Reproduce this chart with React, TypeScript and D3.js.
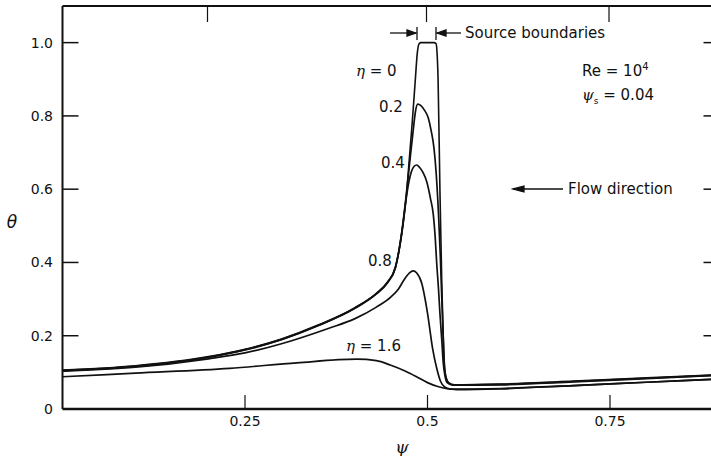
import React from "react";
import * as d3 from "d3";

// theta vs psi for each eta
const eta0 = [
  [0, 0.106], [0.1, 0.118], [0.2, 0.143], [0.25, 0.163], [0.3, 0.191], [0.35, 0.229],
  [0.4, 0.276], [0.43, 0.316], [0.445, 0.346], [0.456, 0.387], [0.465, 0.482],
  [0.471, 0.582], [0.475, 0.68], [0.479, 0.78], [0.483, 0.89], [0.4862, 0.975],
  [0.4885, 0.997], [0.491, 1.0], [0.509, 1.0], [0.5118, 0.997], [0.513, 0.975],
  [0.5145, 0.9], [0.517, 0.6], [0.5195, 0.35], [0.5215, 0.2], [0.523, 0.12],
  [0.525, 0.088], [0.529, 0.072], [0.537, 0.066], [0.6, 0.068], [0.7, 0.076],
  [0.8, 0.085], [0.9, 0.094],
];
const eta02 = [
  [0, 0.104], [0.1, 0.116], [0.2, 0.141], [0.25, 0.161], [0.3, 0.189], [0.35, 0.227],
  [0.4, 0.274], [0.43, 0.314], [0.445, 0.344], [0.456, 0.385], [0.465, 0.486],
  [0.471, 0.586], [0.476, 0.68], [0.4805, 0.762], [0.4835, 0.812], [0.4866, 0.832],
  [0.491, 0.828], [0.496, 0.815], [0.501, 0.795], [0.505, 0.76], [0.509, 0.71],
  [0.512, 0.64], [0.515, 0.535], [0.5175, 0.42], [0.5195, 0.306], [0.5215, 0.2],
  [0.523, 0.126], [0.525, 0.09], [0.529, 0.07], [0.537, 0.065], [0.6, 0.067],
  [0.7, 0.075], [0.8, 0.084], [0.9, 0.093],
];
const eta04 = [
  [0, 0.105], [0.1, 0.117], [0.2, 0.142], [0.25, 0.162], [0.3, 0.19], [0.35, 0.228],
  [0.4, 0.275], [0.43, 0.315], [0.445, 0.345], [0.456, 0.386], [0.465, 0.484],
  [0.4705, 0.57], [0.4745, 0.62], [0.478, 0.648], [0.4815, 0.662], [0.4852, 0.666],
  [0.489, 0.66], [0.494, 0.645], [0.499, 0.62], [0.504, 0.575], [0.508, 0.53],
  [0.5105, 0.47], [0.5126, 0.398], [0.515, 0.33], [0.517, 0.262], [0.5195, 0.19],
  [0.5216, 0.126], [0.524, 0.09], [0.527, 0.072], [0.535, 0.065], [0.6, 0.066],
  [0.7, 0.074], [0.8, 0.083], [0.9, 0.092],
];
const eta08 = [
  [0, 0.103], [0.1, 0.114], [0.2, 0.137], [0.25, 0.153], [0.3, 0.178], [0.366, 0.221],
  [0.4, 0.246], [0.43, 0.278], [0.45, 0.306], [0.46, 0.327], [0.468, 0.353],
  [0.475, 0.371], [0.4805, 0.377], [0.485, 0.372], [0.492, 0.344], [0.5, 0.262],
  [0.507, 0.165], [0.5128, 0.11], [0.518, 0.075], [0.523, 0.061], [0.53, 0.055],
  [0.54, 0.054], [0.6, 0.056], [0.7, 0.064], [0.8, 0.073], [0.9, 0.082],
];
const eta16 = [
  [0, 0.088], [0.1, 0.098], [0.229, 0.111], [0.321, 0.126], [0.403, 0.136],
  [0.43, 0.132], [0.449, 0.12], [0.47, 0.103], [0.485, 0.088], [0.5, 0.072],
  [0.513, 0.062], [0.525, 0.056], [0.54, 0.053], [0.6, 0.055], [0.7, 0.064],
  [0.8, 0.073], [0.9, 0.082],
];
const curves = [eta0, eta02, eta04, eta08, eta16];

const yTicks = [0, 0.2, 0.4, 0.6, 0.8, 1.0];
const yTickLabels = ["0", "0.2", "0.4", "0.6", "0.8", "1.0"];
const xTicks = [0.25, 0.5, 0.75];
const xTickLabels = ["0.25", "0.5", "0.75"];
const topTicks = [0.2, 0.5, 0.75];

export default function App() {
  const W = 711;
  const H = 456;
  const x = d3.scaleLinear().domain([0, 0.9]).range([62.5, 719.5]);
  const y = d3.scaleLinear().domain([0, 1.1]).range([409, 6]);

  const line = d3
    .line<number[]>()
    .x((d) => x(d[0]))
    .y((d) => y(d[1]))
    .curve(d3.curveMonotoneX);

  const font = "'DejaVu Sans', sans-serif";
  const x0 = x(0);
  const yBot = y(0);
  const yTop = y(1.1);

  return (
    <svg
      width={W}
      height={H}
      style={{ position: "absolute", left: 0, top: 0, background: "#fff" }}
      fontFamily={font}
    >
      <rect width={W} height={H} fill="#fff" />
      {/* frame */}
      <line x1={x0} x2={W} y1={yTop} y2={yTop} stroke="#111" strokeWidth={2} />
      <line x1={x0} x2={x0} y1={yTop} y2={yBot} stroke="#111" strokeWidth={2} />
      <line x1={x0} x2={W} y1={yBot} y2={yBot} stroke="#111" strokeWidth={2.5} />

      {/* y ticks, left and right */}
      {yTicks.map((t, i) => (
        <g key={"y" + i}>
          {t > 0 && (
            <line x1={x0} x2={x0 + 16} y1={y(t)} y2={y(t)} stroke="#111" strokeWidth={1.5} />
          )}
          {t > 0 && (
            <line x1={x(0.9) - 16} x2={x(0.9)} y1={y(t)} y2={y(t)} stroke="#111" strokeWidth={1.5} />
          )}
          <text x={53} y={y(t)} dy="0.35em" textAnchor="end" fontSize={14} fill="#111">
            {yTickLabels[i]}
          </text>
        </g>
      ))}

      {/* x ticks */}
      {xTicks.map((t, i) => (
        <g key={"x" + i}>
          <line x1={x(t)} x2={x(t)} y1={yBot} y2={yBot - 14} stroke="#111" strokeWidth={1.2} />
          <text x={x(t)} y={426} textAnchor="middle" fontSize={14} fill="#111">
            {xTickLabels[i]}
          </text>
        </g>
      ))}
      {topTicks.map((t, i) => (
        <line key={"t" + i} x1={x(t) - 1} x2={x(t) - 1} y1={yTop} y2={yTop + 16} stroke="#111" strokeWidth={1.2} />
      ))}

      {/* curves */}
      {curves.map((c, i) => (
        <path
          key={"c" + i}
          d={line(c as number[][]) || ""}
          fill="none"
          stroke="#111"
          strokeWidth={i === 0 ? 1.6 : 1.7}
          strokeLinejoin="round"
        />
      ))}

      {/* curve labels */}
      <text x={356} y={76} fontSize={15} fill="#111">
        <tspan fontStyle="italic" fontFamily="'DejaVu Serif', serif">η</tspan> = 0
      </text>
      <text x={379} y={112} fontSize={15} fill="#111">0.2</text>
      <text x={381} y={168} fontSize={15} fill="#111">0.4</text>
      <text x={368} y={266} fontSize={15} fill="#111">0.8</text>
      <text x={346} y={351} fontSize={15} fill="#111">
        <tspan fontStyle="italic" fontFamily="'DejaVu Serif', serif">η</tspan> = 1.6
      </text>

      {/* source boundaries */}
      <g stroke="#111" strokeWidth={1.3} fill="#111">
        <line x1={390} x2={416} y1={33} y2={33} />
        <path d="M416,33 L407,30 L407,36 Z" />
        <line x1={417} x2={417} y1={27} y2={40} />
        <line x1={436} x2={436} y1={27} y2={40} />
        <line x1={437} x2={461} y1={33} y2={33} />
        <path d="M437,33 L446,30 L446,36 Z" />
      </g>
      <text x={465} y={38} fontSize={15} fill="#111">Source boundaries</text>

      <text x={582} y={76} fontSize={15} fill="#111">
        Re = 10<tspan dy={-6} fontSize={10}>4</tspan>
      </text>
      <text x={582} y={100} fontSize={15} fill="#111">
        <tspan fontStyle="italic" fontFamily="'DejaVu Serif', serif">ψ</tspan>
        <tspan dy={4} fontSize={9}>s</tspan>
        <tspan dy={-4}> = 0.04</tspan>
      </text>

      {/* flow direction */}
      <g stroke="#111" strokeWidth={1.3} fill="#111">
        <line x1={513} x2={563} y1={189} y2={189} />
        <path d="M513,189 L524,186 L524,192 Z" />
      </g>
      <text x={568} y={194} fontSize={15} fill="#111">Flow direction</text>

      {/* axis titles */}
      <text x={12} y={228} fontSize={17} fontStyle="italic" textAnchor="middle" fill="#111">
        θ
      </text>
      <text x={402} y={453} fontSize={17} fontStyle="italic" textAnchor="middle" fill="#111" fontFamily="'DejaVu Serif', serif">
        ψ
      </text>
    </svg>
  );
}
